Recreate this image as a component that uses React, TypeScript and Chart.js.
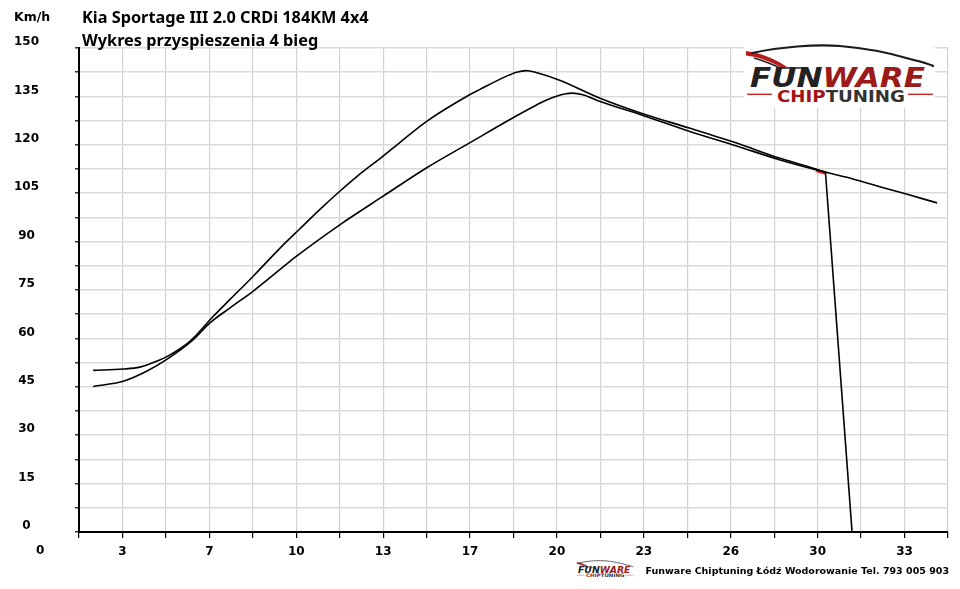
import { useEffect, useRef } from 'react';
import { Chart, registerables } from 'chart.js';

Chart.register(...registerables);

// po modyfikacji (szybsza krzywa): czas [s] / predkosc [km/h]
const tunedTime = [2.21, 3.36, 4.0, 4.64, 5.09, 5.92, 6.81, 7.45, 8.34, 9.37, 10.13, 10.9, 11.67, 12.3, 13.32, 13.96, 14.99, 16.65, 17.03, 18.05, 18.45, 18.82, 19.2, 20.1, 21.63, 23.41, 25.07, 26.86, 28.53, 29.93, 30.3];
const tunedSpeed = [50.1, 50.5, 51.1, 52.9, 54.6, 59.1, 66.8, 72.0, 79.2, 87.9, 93.9, 99.9, 105.6, 110.0, 116.4, 120.6, 127.2, 135.5, 137.1, 141.2, 142.5, 143.0, 142.4, 140.0, 134.5, 129.3, 125.2, 120.6, 115.9, 112.5, 111.4];

// koniec pomiaru - spadek predkosci do zera
const dropTime = [30.3, 31.32];
const dropSpeed = [111.4, 0];

// seria (wolniejsza krzywa)
const stockTime = [2.21, 3.36, 4.26, 5.02, 6.05, 6.69, 7.45, 8.34, 9.37, 10.0, 11.67, 13.32, 14.99, 16.65, 18.3, 19.0, 19.58, 20.34, 20.6, 20.99, 21.63, 23.41, 25.07, 26.86, 28.53, 29.93, 31.08, 32.35, 33.37, 34.58];
const stockSpeed = [45.1, 46.7, 49.8, 53.4, 59.6, 64.8, 69.4, 74.6, 81.3, 85.4, 95.2, 104.0, 112.8, 120.6, 128.3, 131.4, 133.8, 135.8, 136.0, 135.5, 133.5, 128.8, 124.2, 119.7, 115.4, 112.3, 110.0, 107.1, 104.8, 102.0];

// maly czerwony znacznik przy koncu pomiaru
const markerTime = [29.93, 30.3];
const markerSpeed = [111.9, 111.0];

// siatka osi: co 5/3 s i co 7.5 km/h, opis co druga linia
const xTickLabels = ['', '3', '', '7', '', '10', '', '13', '', '17', '', '20', '', '23', '', '26', '', '30', '', '33', ''];
const yTickLabels = ['0', '', '15', '', '30', '', '45', '', '60', '', '75', '', '90', '', '105', '', '120', '', '135', '', '150'];
const X_MIN = 5 / 3;
const X_STEP = 5 / 3;
const Y_STEP = 7.5;

const toPoints = (xs, ys) => xs.map((x, i) => ({ x, y: ys[i] }));

function Logo({ left, top, scale }) {
  return (
    <svg
      style={{ position: 'absolute', left, top }}
      width={200 * scale}
      height={70 * scale}
      viewBox="0 0 200 70"
    >
      <rect x="4" y="2" width="191" height="66" fill="#fff" />
      <path d="M6 11 C 20 13, 34 18, 47 27 L 43 28.5 C 30 21, 18 17, 6 15.5 Z" fill="#b71c1c" />
      <path d="M14 18 C 24 21, 34 25, 40 28 L 62 28" stroke="#222" strokeWidth="1.4" fill="none" />
      <path
        d="M12 13 C 40 7, 75 4, 100 6 C 125 8, 150 13, 170 19 C 182 22, 190 24, 193 26"
        stroke="#1a1a1a"
        strokeWidth="2.2"
        fill="none"
        strokeLinecap="round"
      />
      <text
        x="10"
        y="46.5"
        fontFamily="DejaVu Sans"
        fontWeight="bold"
        fontStyle="italic"
        fontSize="27"
        textLength="175"
        lengthAdjust="spacingAndGlyphs"
      >
        <tspan fill="#222">FUN</tspan>
        <tspan fill="#9b1b1b">WARE</tspan>
      </text>
      <line x1="7" y1="54.3" x2="32" y2="54.3" stroke="#c62828" strokeWidth="1.4" />
      <line x1="168" y1="54.3" x2="193" y2="54.3" stroke="#c62828" strokeWidth="1.4" />
      <text
        x="37"
        y="61.5"
        fontFamily="DejaVu Sans"
        fontWeight="bold"
        fontSize="16"
        textLength="128"
        lengthAdjust="spacingAndGlyphs"
      >
        <tspan fill="#a31515">CHIP</tspan>
        <tspan fill="#333">TUNING</tspan>
      </text>
    </svg>
  );
}

export default function App() {
  const canvasRef = useRef(null);

  useEffect(() => {
    if (!canvasRef.current) return;
    const ctx = canvasRef.current.getContext('2d');
    if (!ctx) return;

    const tickFont = { family: 'DejaVu Sans', size: 12, weight: 'bold' as const };
    const curve = {
      borderColor: '#000',
      borderWidth: 1.6,
      pointRadius: 0,
      fill: false,
    };

    const chart = new Chart(ctx, {
      type: 'line',
      data: {
        datasets: [
          { ...curve, label: 'Tuning', data: toPoints(tunedTime, tunedSpeed), cubicInterpolationMode: 'monotone' },
          { ...curve, label: 'Koniec', data: toPoints(dropTime, dropSpeed) },
          { ...curve, label: 'Seria', data: toPoints(stockTime, stockSpeed), cubicInterpolationMode: 'monotone' },
          { ...curve, label: 'Znacznik', data: toPoints(markerTime, markerSpeed), borderColor: '#ff1a1a', borderWidth: 2 },
        ],
      },
      options: {
        animation: false,
        responsive: true,
        maintainAspectRatio: false,
        layout: { padding: { top: 48, right: 12, left: 0, bottom: 0 } },
        plugins: {
          legend: { display: false },
          tooltip: { enabled: false },
        },
        scales: {
          x: {
            type: 'linear',
            min: X_MIN,
            max: X_MIN + (xTickLabels.length - 1) * X_STEP,
            afterBuildTicks: (axis) => {
              axis.ticks = xTickLabels.map((_, i) => ({ value: X_MIN + i * X_STEP }));
            },
            afterFit: (axis) => {
              axis.height = 57;
            },
            ticks: {
              autoSkip: false,
              maxRotation: 0,
              padding: 7,
              color: '#000',
              font: tickFont,
              callback: (_v, i) => xTickLabels[i],
            },
            grid: {
              color: '#d2d2d2',
              lineWidth: 1.2,
              tickColor: '#000',
              tickLength: 6,
              tickWidth: 1.2,
            },
            border: { display: true, color: '#000', width: 2 },
          },
          y: {
            type: 'linear',
            min: 0,
            max: (yTickLabels.length - 1) * Y_STEP,
            afterBuildTicks: (axis) => {
              axis.ticks = yTickLabels.map((_, i) => ({ value: i * Y_STEP }));
            },
            afterFit: (axis) => {
              axis.width = 79;
            },
            ticks: {
              autoSkip: false,
              crossAlign: 'center',
              padding: 36,
              labelOffset: -6,
              color: '#000',
              font: tickFont,
              callback: (_v, i) => yTickLabels[i],
            },
            grid: {
              color: '#dadada',
              lineWidth: 1.6,
              tickColor: '#000',
              tickLength: 4,
              tickWidth: 1.2,
            },
            border: { display: true, color: '#000', width: 2 },
          },
        },
      },
    });

    return () => chart.destroy();
  }, []);

  const bold = { position: 'absolute' as const, fontWeight: 'bold' as const, whiteSpace: 'nowrap' as const, color: '#000' };

  return (
    <div style={{ position: 'fixed', left: 0, top: 0, width: 960, height: 589, background: '#fff' }}>
      <canvas ref={canvasRef} />
      <div style={{ ...bold, left: 14, top: 7, lineHeight: '20px', fontFamily: 'DejaVu Sans', fontSize: 12.5 }}>Km/h</div>
      <div style={{ ...bold, left: 82, top: 7, lineHeight: '20px', fontFamily: 'Noto Sans', fontSize: 16.3 }}>
        Kia Sportage III 2.0 CRDi 184KM 4x4
      </div>
      <div style={{ ...bold, left: 82, top: 30, lineHeight: '20px', fontFamily: 'Noto Sans', fontSize: 16.3 }}>
        Wykres przyspieszenia 4 bieg
      </div>
      <div style={{ ...bold, left: 36, top: 542, lineHeight: '16px', fontFamily: 'DejaVu Sans', fontSize: 12 }}>0</div>
      <Logo left={740} top={40} scale={1} />
      <Logo left={575} top={559} scale={0.3} />
      <div style={{ ...bold, right: 11, top: 563, lineHeight: '16px', fontFamily: 'DejaVu Sans', fontSize: 9.5 }}>
        Funware Chiptuning Łódź Wodorowanie Tel. 793 005 903
      </div>
    </div>
  );
}
